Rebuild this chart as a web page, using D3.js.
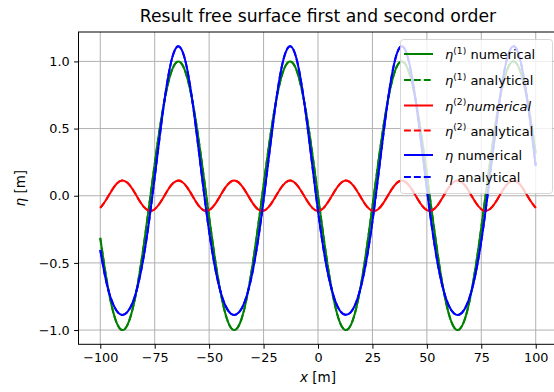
<!DOCTYPE html>
<html>
<head>
<meta charset="utf-8">
<script src="https://cdn.jsdelivr.net/npm/d3@7"></script>
<style>
  body { margin: 0; background: #fff; }
</style>
</head>
<body>
<div id="chart"></div>
<script>
// sample positions along the domain [m]
const xs = [
  -100, -97.5, -95, -92.5, -90, -87.5, -85, -82.5, -80, -77.5,
  -75, -72.5, -70, -67.5, -65, -62.5, -60, -57.5, -55, -52.5,
  -50, -47.5, -45, -42.5, -40, -37.5, -35, -32.5, -30, -27.5,
  -25, -22.5, -20, -17.5, -15, -12.5, -10, -7.5, -5, -2.5,
  0, 2.5, 5, 7.5, 10, 12.5, 15, 17.5, 20, 22.5,
  25, 27.5, 30, 32.5, 35, 37.5, 40, 42.5, 45, 47.5,
  50, 52.5, 55, 57.5, 60, 62.5, 65, 67.5, 70, 72.5,
  75, 77.5, 80, 82.5, 85, 87.5, 90, 92.5, 95, 97.5, 100
];

// first order free surface eta^(1)
const eta1 = [
  -0.313, -0.585, -0.802, -0.945, -1.000, -0.961, -0.834, -0.629, -0.365, -0.067,
  0.237, 0.519, 0.752, 0.916, 0.994, 0.980, 0.875, 0.689, 0.438, 0.146,
  -0.159, -0.449, -0.697, -0.881, -0.983, -0.993, -0.911, -0.744, -0.508, -0.225,
  0.080, 0.376, 0.638, 0.841, 0.965, 0.999, 0.941, 0.794, 0.575, 0.301,
  0.000, -0.301, -0.575, -0.794, -0.941, -0.999, -0.965, -0.841, -0.638, -0.376,
  -0.080, 0.225, 0.508, 0.744, 0.911, 0.993, 0.983, 0.881, 0.697, 0.449,
  0.159, -0.146, -0.438, -0.689, -0.875, -0.980, -0.994, -0.916, -0.752, -0.519,
  -0.237, 0.067, 0.365, 0.629, 0.834, 0.961, 1.000, 0.945, 0.802, 0.585, 0.313
];

// second order free surface eta^(2)
const eta2 = [
  -0.091, -0.036, 0.032, 0.089, 0.113, 0.096, 0.044, -0.024, -0.083, -0.112,
  -0.100, -0.052, 0.015, 0.077, 0.110, 0.104, 0.060, -0.006, -0.070, -0.108,
  -0.107, -0.067, -0.003, 0.062, 0.105, 0.110, 0.074, 0.012, -0.055, -0.102,
  -0.112, -0.081, -0.021, 0.047, 0.097, 0.113, 0.087, 0.030, -0.038, -0.092,
  -0.113, -0.092, -0.038, 0.030, 0.087, 0.113, 0.097, 0.047, -0.021, -0.081,
  -0.112, -0.102, -0.055, 0.012, 0.074, 0.110, 0.105, 0.062, -0.003, -0.067,
  -0.107, -0.108, -0.070, -0.006, 0.060, 0.104, 0.110, 0.077, 0.015, -0.052,
  -0.100, -0.112, -0.083, -0.024, 0.044, 0.096, 0.113, 0.089, 0.032, -0.036, -0.091
];

// total free surface eta
const eta = [
  -0.404, -0.621, -0.770, -0.856, -0.887, -0.865, -0.790, -0.653, -0.448, -0.179,
  0.137, 0.467, 0.767, 0.993, 1.104, 1.084, 0.935, 0.683, 0.368, 0.038,
  -0.266, -0.516, -0.700, -0.819, -0.878, -0.883, -0.837, -0.732, -0.563, -0.327,
  -0.032, 0.295, 0.617, 0.888, 1.062, 1.112, 1.028, 0.824, 0.537, 0.209,
  -0.113, -0.393, -0.613, -0.764, -0.854, -0.886, -0.868, -0.794, -0.659, -0.457,
  -0.192, 0.123, 0.453, 0.756, 0.985, 1.103, 1.088, 0.943, 0.694, 0.382,
  0.052, -0.254, -0.508, -0.695, -0.815, -0.876, -0.884, -0.839, -0.737, -0.571,
  -0.337, -0.045, 0.282, 0.605, 0.878, 1.057, 1.113, 1.034, 0.834, 0.549, 0.222
];

const xTicks = [-100, -75, -50, -25, 0, 25, 50, 75, 100];
const yTicks = [-1.0, -0.5, 0.0, 0.5, 1.0];

// set the dimensions of the graph
const width = 554,
  height = 392;
const pLeft = 78.5, pRight = 557.5, pTop = 32, pBottom = 344.3;
const FONT = "DejaVu Sans";

const svg = d3
  .select("#chart")
  .append("svg")
  .attr("width", width)
  .attr("height", height)
  .style("font-family", FONT);

// scales (matplotlib style 5% margins)
const x = d3.scaleLinear().domain([-110, 110]).range([pLeft, pRight]);
const y = d3.scaleLinear().domain([-1.106, 1.219]).range([pBottom, pTop]);

// grid
svg.append("g")
  .selectAll("line")
  .data(xTicks)
  .join("line")
  .attr("x1", d => x(d)).attr("x2", d => x(d))
  .attr("y1", pTop).attr("y2", pBottom)
  .attr("stroke", "#b0b0b0")
  .attr("stroke-width", 1);
svg.append("g")
  .selectAll("line")
  .data(yTicks)
  .join("line")
  .attr("x1", pLeft).attr("x2", pRight)
  .attr("y1", d => y(d)).attr("y2", d => y(d))
  .attr("stroke", "#b0b0b0")
  .attr("stroke-width", 1);

// axes
const fmtX = d => (d < 0 ? "\u2212" + Math.abs(d) : "" + d);
const fmtY = d => (d < 0 ? "\u2212" + Math.abs(d).toFixed(1) : d.toFixed(1));

const xAxis = svg.append("g")
  .attr("transform", `translate(0,${pBottom})`)
  .call(d3.axisBottom(x).tickValues(xTicks).tickFormat(fmtX).tickSize(4.4).tickPadding(4.4));
const yAxis = svg.append("g")
  .attr("transform", `translate(${pLeft},0)`)
  .call(d3.axisLeft(y).tickValues(yTicks).tickFormat(fmtY).tickSize(4.4).tickPadding(4.4));

[xAxis, yAxis].forEach(a => {
  a.attr("font-family", null).attr("font-size", null);
  a.select(".domain").remove();
  a.selectAll("line").attr("stroke", "#000").attr("stroke-width", 1);
  a.selectAll("text")
    .style("font-family", FONT)
    .style("font-size", "12.8px")
    .attr("fill", "#000");
});

// spines (right one falls outside the picture)
svg.append("rect")
  .attr("x", pLeft).attr("y", pTop)
  .attr("width", pRight - pLeft).attr("height", pBottom - pTop)
  .attr("fill", "none")
  .attr("stroke", "#000")
  .attr("stroke-width", 1);

// lines
const line = d3.line()
  .x(d => x(d[0]))
  .y(d => y(d[1]))
  .curve(d3.curveNatural);

const series = [
  { vals: eta1, color: "#008000", dash: null },
  { vals: eta1, color: "#008000", dash: "6.9,3" },
  { vals: eta2, color: "#ff0000", dash: null },
  { vals: eta2, color: "#ff0000", dash: "6.9,3" },
  { vals: eta, color: "#0000ff", dash: null },
  { vals: eta, color: "#0000ff", dash: "6.9,3" }
];

svg.append("g")
  .selectAll("path")
  .data(series)
  .join("path")
  .attr("d", s => line(xs.map((v, i) => [v, s.vals[i]])))
  .attr("fill", "none")
  .attr("stroke", s => s.color)
  .attr("stroke-width", 2)
  .attr("stroke-dasharray", s => s.dash);

// title and labels
svg.append("text")
  .attr("x", (pLeft + pRight) / 2)
  .attr("y", 22)
  .attr("text-anchor", "middle")
  .style("font-family", FONT)
  .style("font-size", "17.2px")
  .text("Result free surface first and second order");

const xl = svg.append("text")
  .attr("x", (pLeft + pRight) / 2)
  .attr("y", 382)
  .attr("text-anchor", "middle")
  .style("font-family", FONT)
  .style("font-size", "13.5px");
xl.append("tspan").style("font-style", "italic").text("x");
xl.append("tspan").text(" [m]");

const yl = svg.append("text")
  .attr("transform", `translate(25,${(pTop + pBottom) / 2}) rotate(-90)`)
  .attr("text-anchor", "middle")
  .style("font-family", FONT)
  .style("font-size", "13.5px");
yl.append("tspan").style("font-style", "italic").text("\u03b7");
yl.append("tspan").text(" [m]");

// legend
const legend = svg.append("g");
legend.append("rect")
  .attr("x", 400.5).attr("y", 39.5)
  .attr("width", 152).attr("height", 154)
  .attr("rx", 3)
  .attr("fill", "#fff")
  .attr("fill-opacity", 0.8)
  .attr("stroke", "#cccccc")
  .attr("stroke-opacity", 0.8)
  .attr("stroke-width", 1);

const legendItems = [
  { color: "#008000", dash: null, sup: "(1)", label: " numerical", italic: false, ly: 54 },
  { color: "#008000", dash: "6.9,3", sup: "(1)", label: " analytical", italic: false, ly: 80 },
  { color: "#ff0000", dash: null, sup: "(2)", label: "numerical", italic: true, ly: 105.5 },
  { color: "#ff0000", dash: "6.9,3", sup: "(2)", label: " analytical", italic: false, ly: 130.5 },
  { color: "#0000ff", dash: null, sup: null, label: " numerical", italic: false, ly: 155 },
  { color: "#0000ff", dash: "6.9,3", sup: null, label: " analytical", italic: false, ly: 177 }
];

const item = legend.selectAll("g.item")
  .data(legendItems)
  .join("g")
  .attr("class", "item");

item.append("line")
  .attr("x1", 404).attr("x2", 433)
  .attr("y1", d => d.ly).attr("y2", d => d.ly)
  .attr("stroke", d => d.color)
  .attr("stroke-width", 2)
  .attr("stroke-dasharray", d => d.dash);

item.each(function (d) {
  const t = d3.select(this).append("text")
    .attr("x", 445)
    .attr("y", d.ly + 5)
    .style("font-family", FONT)
    .style("font-size", "13px");
  t.append("tspan").style("font-style", "italic").text("\u03b7");
  if (d.sup) {
    t.append("tspan")
      .attr("dy", -5.5)
      .style("font-size", "9.2px")
      .text(d.sup);
    t.append("tspan")
      .attr("dy", 5.5)
      .style("font-style", d.italic ? "italic" : "normal")
      .text(d.label);
  } else {
    t.append("tspan").text(d.label);
  }
});
</script>
</body>
</html>
